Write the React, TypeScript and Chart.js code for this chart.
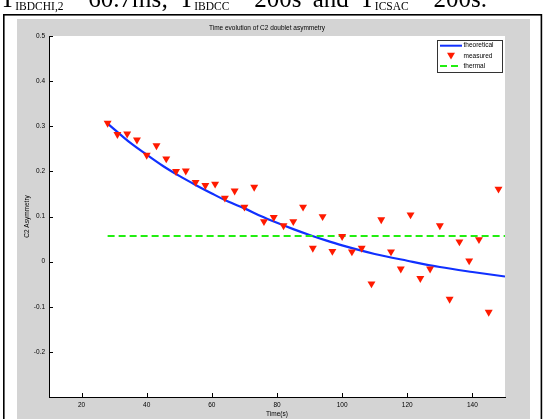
import React, { useEffect, useRef } from 'react';
import { Chart, registerables } from 'chart.js';

Chart.register(...registerables);

const chartTitle = 'Time evolution of C2 doublet asymmetry';
const xAxisTitle = 'Time(s)';
const yAxisTitle = 'C2 Asymmetry';
const legendLabels = ['theoretical', 'measured', 'thermal'];

const measuredT = [28, 31, 34, 37, 40, 43, 46, 49, 52, 55, 58, 61, 64, 67, 70, 73, 76, 79, 82, 85, 88, 91, 94, 97, 100, 103, 106, 109, 112, 115, 118, 121, 124, 127, 130, 133, 136, 139, 142, 145, 148];
const measuredV = [0.307, 0.282, 0.283, 0.270, 0.236, 0.257, 0.228, 0.200, 0.201, 0.176, 0.169, 0.172, 0.141, 0.157, 0.121, 0.165, 0.089, 0.098, 0.080, 0.089, 0.121, 0.030, 0.100, 0.023, 0.056, 0.022, 0.030, -0.049, 0.093, 0.022, -0.016, 0.104, -0.037, -0.016, 0.080, -0.083, 0.044, 0.002, 0.049, -0.112, 0.161];

const theoryT = [28, 35, 40, 45, 50, 55, 60, 65, 70, 75, 80, 85, 90, 95, 100, 110, 120, 130, 140, 150];
const theoryV = [0.306, 0.263, 0.237, 0.212, 0.190, 0.170, 0.151, 0.133, 0.118, 0.101, 0.086, 0.072, 0.059, 0.047, 0.036, 0.017, 0.002, -0.012, -0.023, -0.033];

const thermalT = [28, 150];
const thermalV = [0.057, 0.057];

const xTicks = [20, 40, 60, 80, 100, 120, 140];
const xTickLabels = ['20', '40', '60', '80', '100', '120', '140'];
const yTicks = [-0.2, -0.1, 0, 0.1, 0.2, 0.3, 0.4, 0.5];
const yTickLabels = ['-0.2', '-0.1', '0', '0.1', '0.2', '0.3', '0.4', '0.5'];

const FONT = '"Liberation Sans", Arial, sans-serif';
const BLUE = '#1030ff';
const RED = '#ff1a00';
const GREEN = '#22ee11';
const GREY = '#d4d4d4';

const decorPlugin = {
  id: 'decor',
  beforeDraw(chart: any) {
    const ctx = chart.ctx;
    const { left, right, top, bottom } = chart.chartArea;
    ctx.save();
    ctx.fillStyle = '#ffffff';
    ctx.fillRect(0, 0, chart.width, chart.height);
    ctx.strokeStyle = '#000';
    ctx.lineWidth = 1.6;
    ctx.strokeRect(3.8, 14.8, 537.6, 420);
    ctx.fillStyle = GREY;
    ctx.fillRect(17, 19, 513, 410);
    ctx.fillStyle = '#ffffff';
    ctx.fillRect(left, top, right - left, bottom - top);
    ctx.restore();
  },
  afterDraw(chart: any) {
    const ctx = chart.ctx;
    const { left, right, bottom } = chart.chartArea;
    const xs = chart.scales.x;
    const ys = chart.scales.y;
    ctx.save();
    ctx.strokeStyle = '#000';
    ctx.lineWidth = 1;
    ctx.beginPath();
    xTicks.forEach((v) => {
      const px = Math.round(xs.getPixelForValue(v)) + 0.5;
      ctx.moveTo(px, bottom);
      ctx.lineTo(px, bottom - 4);
    });
    yTicks.forEach((v) => {
      const py = Math.round(ys.getPixelForValue(v)) + 0.5;
      ctx.moveTo(left, py);
      ctx.lineTo(left + 4, py);
    });
    ctx.stroke();

    ctx.fillStyle = '#000';
    ctx.font = `6.5px ${FONT}`;
    ctx.textAlign = 'center';
    ctx.textBaseline = 'middle';
    ctx.fillText(chartTitle, (left + right) / 2 - 10, 28);

    const bx = 437.5, by = 40.5, bw = 65, bh = 32;
    ctx.fillStyle = '#fff';
    ctx.fillRect(bx, by, bw, bh);
    ctx.strokeStyle = '#333';
    ctx.lineWidth = 1;
    ctx.strokeRect(bx, by, bw, bh);
    const rows = [45.7, 56, 66];
    const lx0 = 440, lx1 = 462;
    ctx.strokeStyle = BLUE;
    ctx.lineWidth = 2;
    ctx.setLineDash([]);
    ctx.beginPath();
    ctx.moveTo(lx0, rows[0]);
    ctx.lineTo(lx1, rows[0]);
    ctx.stroke();
    const cx = (lx0 + lx1) / 2, cy = rows[1] - 1, r = 4.6;
    ctx.fillStyle = RED;
    ctx.beginPath();
    ctx.moveTo(cx - r * 0.866, cy - r / 2);
    ctx.lineTo(cx + r * 0.866, cy - r / 2);
    ctx.lineTo(cx, cy + r);
    ctx.closePath();
    ctx.fill();
    ctx.strokeStyle = GREEN;
    ctx.lineWidth = 2;
    ctx.setLineDash([7, 4]);
    ctx.beginPath();
    ctx.moveTo(lx0, rows[2]);
    ctx.lineTo(lx1, rows[2]);
    ctx.stroke();
    ctx.setLineDash([]);
    ctx.fillStyle = '#000';
    ctx.font = `6.5px ${FONT}`;
    ctx.textAlign = 'left';
    ctx.textBaseline = 'middle';
    legendLabels.forEach((t, i) => ctx.fillText(t, 463.5, rows[i]));
    ctx.restore();
  },
};

export default function App() {
  const canvasRef = useRef<HTMLCanvasElement | null>(null);

  useEffect(() => {
    if (!canvasRef.current) return;
    const chart = new Chart(canvasRef.current, {
      type: 'line',
      data: {
        datasets: [
          {
            label: legendLabels[1],
            data: measuredT.map((t, i) => ({ x: t, y: measuredV[i] })),
            showLine: false,
            pointStyle: 'triangle',
            rotation: 180,
            pointRadius: 4.6,
            pointHoverRadius: 4.6,
            pointBackgroundColor: RED,
            pointBorderColor: RED,
            pointBorderWidth: 0,
          },
          {
            label: legendLabels[2],
            data: thermalT.map((t, i) => ({ x: t, y: thermalV[i] })),
            borderColor: GREEN,
            borderWidth: 2,
            borderDash: [7, 4],
            pointRadius: 0,
            fill: false,
          },
          {
            label: legendLabels[0],
            data: theoryT.map((t, i) => ({ x: t, y: theoryV[i] })),
            borderColor: BLUE,
            borderWidth: 2.2,
            pointRadius: 0,
            cubicInterpolationMode: 'monotone',
            fill: false,
          },
        ],
      },
      options: {
        animation: false,
        responsive: false,
        devicePixelRatio: 1,
        layout: { padding: { left: 0, top: 36, right: 41, bottom: 0 } },
        plugins: {
          legend: { display: false },
          title: { display: false },
          tooltip: { enabled: false },
        },
        scales: {
          x: {
            type: 'linear',
            min: 10,
            max: 150,
            afterBuildTicks: (s: any) => {
              s.ticks = xTicks.map((v) => ({ value: v }));
            },
            afterFit: (s: any) => {
              s.height = 22;
            },
            grid: { drawOnChartArea: false, drawTicks: false },
            border: { display: true, color: '#000', width: 1 },
            ticks: {
              color: '#000',
              padding: 4,
              maxRotation: 0,
              autoSkip: false,
              font: { family: FONT, size: 6.5 },
              callback: (v: any) => {
                const i = xTicks.indexOf(Number(v));
                return i >= 0 ? xTickLabels[i] : '';
              },
            },
            title: {
              display: true,
              text: xAxisTitle,
              color: '#000',
              font: { family: FONT, size: 6.5 },
              padding: { top: 0, bottom: 0.5 },
            },
          },
          y: {
            type: 'linear',
            min: -0.3,
            max: 0.5,
            afterBuildTicks: (s: any) => {
              s.ticks = yTicks.map((v) => ({ value: v }));
            },
            afterFit: (s: any) => {
              s.width = 49;
            },
            grid: { drawOnChartArea: false, drawTicks: false },
            border: { display: true, color: '#000', width: 1 },
            ticks: {
              color: '#000',
              padding: 4,
              autoSkip: false,
              font: { family: FONT, size: 6.5 },
              callback: (v: any) => {
                const i = yTicks.findIndex((t) => Math.abs(t - Number(v)) < 1e-9);
                return i >= 0 ? yTickLabels[i] : '';
              },
            },
            title: {
              display: true,
              text: yAxisTitle,
              color: '#000',
              font: { family: FONT, size: 6.5 },
              padding: { top: 23, bottom: 0 },
            },
          },
        },
      },
      plugins: [decorPlugin],
    } as any);
    return () => chart.destroy();
  }, []);

  const sub: React.CSSProperties = { fontSize: 11.5, verticalAlign: '-3px', wordSpacing: 0 };
  const tilde: React.CSSProperties = { position: 'relative', top: -9 };

  return (
    <div style={{ position: 'fixed', left: 0, top: 0, width: 546, height: 419, overflow: 'hidden', background: '#fff' }}>
      <canvas ref={canvasRef} width={546} height={419} style={{ position: 'absolute', left: 0, top: 0, width: 546, height: 419 }} />
      <div
        style={{
          position: 'absolute',
          left: 0,
          top: -13.8,
          fontFamily: '"Liberation Serif", "Times New Roman", serif',
          fontSize: 25,
          lineHeight: '25px',
          whiteSpace: 'nowrap',
          wordSpacing: '5px',
          color: '#000',
        }}
      >
        T<span style={sub}>IBDCHI,2</span> <span style={tilde}>~</span>60.7ms; T<span style={sub}>IBDCC</span> <span style={tilde}>~</span>200s and T<span style={sub}>ICSAC</span> <span style={tilde}>~</span>200s.
      </div>
    </div>
  );
}
